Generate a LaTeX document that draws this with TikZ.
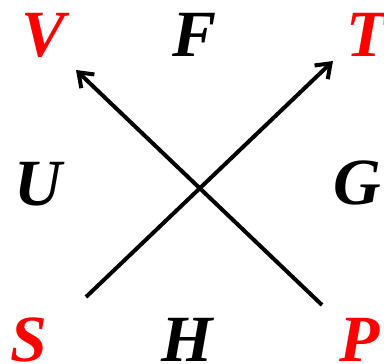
\documentclass[tikz,border=0pt]{standalone}
\usepackage{fontspec}
\setmainfont{Liberation Serif}
\usetikzlibrary{arrows.meta}
\definecolor{lred}{RGB}{255,0,0}
\tikzset{
  lab/.style={inner sep=0pt, font=\fontsize{66}{66}\selectfont\bfseries\itshape},
  redlab/.style={lab, text=lred},
  arr/.style={line width=4pt, -{Straight Barb[length=13pt,width=19pt,line width=4pt]}}
}
\begin{document}
\begin{tikzpicture}[x=1pt,y=-1pt]
\useasboundingbox (0,0) rectangle (384,364);
\node[redlab] (V) at (44,35) {V};
\node[lab] (F) at (195,35) {F};
\node[redlab] (T) at (367,35) {T};
\node[lab] (U) at (38,184) {U};
\node[lab] (G) at (357,183) {G};
\node[redlab] (S) at (29,340) {S};
\node[lab] (H) at (187,340) {H};
\node[redlab] (P) at (360,340) {P};
\coordinate (s1) at (86,297);
\coordinate (e1) at (333,61);
\coordinate (s2) at (322,305);
\coordinate (e2) at (76,70);
\draw[arr] (s1) -- (e1);
\draw[arr] (s2) -- (e2);
\end{tikzpicture}
\end{document}
